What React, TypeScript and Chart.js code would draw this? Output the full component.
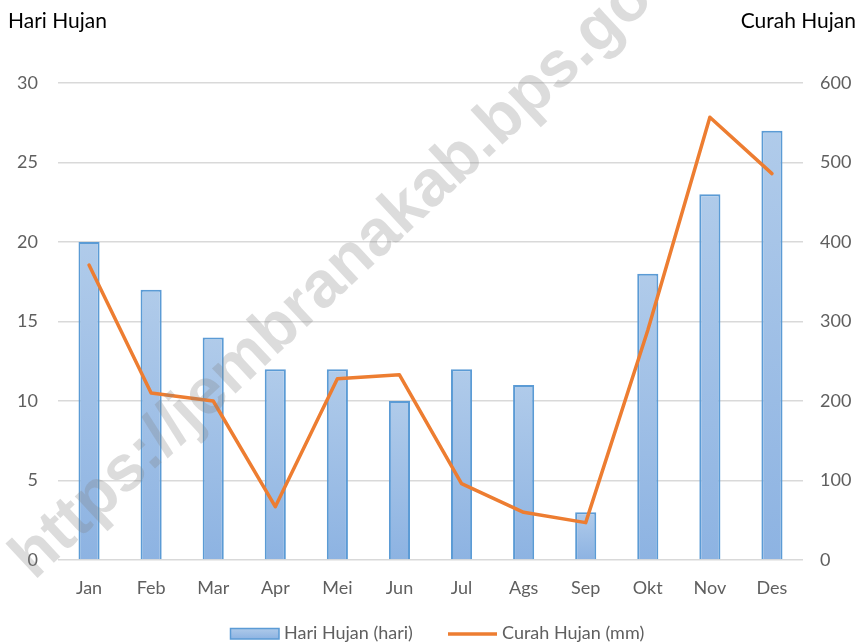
import React, { useEffect, useRef } from "react";
import { Chart, registerables } from "chart.js";

Chart.register(...registerables);

const months = ["Jan", "Feb", "Mar", "Apr", "Mei", "Jun", "Jul", "Ags", "Sep", "Okt", "Nov", "Des"];
const hariHujan = [20, 17, 14, 12, 12, 10, 12, 11, 3, 18, 23, 27];
const curahHujan = [371, 210, 200, 67, 228, 233, 96, 60, 47, 289, 557, 486];
const leftTicks = [0, 5, 10, 15, 20, 25, 30];
const rightTicks = [0, 100, 200, 300, 400, 500, 600];
const leftTitle = "Hari Hujan";
const rightTitle = "Curah Hujan";
const barLabel = "Hari Hujan (hari)";
const lineLabel = "Curah Hujan (mm)";
const watermark = "https://jembranakab.bps.go.id";

const FONT = "Lato, 'Open Sans', sans-serif";
const TICK_COLOR = "#5f5f5f";
const BAR_TOP = "#b0cbea";
const BAR_BOTTOM = "#8db3e2";
const BAR_BORDER = "#5b9bd5";
const LINE_COLOR = "#ed7d31";

const decor = {
  id: "decor",
  afterDraw(chart: any) {
    const ctx = chart.ctx as CanvasRenderingContext2D;
    ctx.save();
    // titles
    ctx.fillStyle = "#000000";
    ctx.font = `21px ${FONT}`;
    ctx.textBaseline = "alphabetic";
    ctx.textAlign = "left";
    ctx.fillText(leftTitle, 8, 28);
    ctx.textAlign = "right";
    ctx.fillText(rightTitle, 856, 28);

    // legend
    const g = ctx.createLinearGradient(0, 628, 0, 639);
    g.addColorStop(0, BAR_TOP);
    g.addColorStop(1, BAR_BOTTOM);
    ctx.fillStyle = g;
    ctx.fillRect(230, 628.5, 49, 10.5);
    ctx.strokeStyle = BAR_BORDER;
    ctx.lineWidth = 1.5;
    ctx.strokeRect(230.5, 628.5, 48.5, 10.5);
    ctx.font = `18px ${FONT}`;
    ctx.fillStyle = TICK_COLOR;
    ctx.textAlign = "left";
    ctx.textBaseline = "middle";
    ctx.fillText(barLabel, 284, 633);
    ctx.strokeStyle = LINE_COLOR;
    ctx.lineWidth = 3.5;
    ctx.beginPath();
    ctx.moveTo(448, 634);
    ctx.lineTo(497, 634);
    ctx.stroke();
    ctx.fillText(lineLabel, 502, 633);

    // watermark
    ctx.translate(22, 568);
    ctx.rotate((-43 * Math.PI) / 180);
    ctx.font = "bold 65px 'Liberation Sans', Arial, sans-serif";
    ctx.fillStyle = "rgba(128,128,128,0.28)";
    ctx.textAlign = "left";
    ctx.textBaseline = "middle";
    ctx.fillText(watermark, 0, 0);
    ctx.restore();
  },
};

export default function App() {
  const ref = useRef<HTMLCanvasElement | null>(null);
  useEffect(() => {
    if (!ref.current) return;
    const chart = new Chart(ref.current, {
      data: {
        labels: months,
        datasets: [
          {
            type: "line",
            label: lineLabel,
            data: curahHujan,
            yAxisID: "y1",
            borderColor: LINE_COLOR,
            backgroundColor: LINE_COLOR,
            borderWidth: 3.5,
            pointRadius: 0,
            tension: 0,
            borderJoinStyle: "round",
            borderCapStyle: "round",
            order: 0,
          },
          {
            type: "bar",
            label: barLabel,
            data: hariHujan,
            yAxisID: "y",
            backgroundColor: (c: any) => {
              const ch = c.chart;
              if (!ch.chartArea || c.raw === undefined) return BAR_BOTTOM;
              const ys = ch.scales.y;
              const top = ys.getPixelForValue(c.raw);
              const bot = ys.getPixelForValue(0);
              const gr = ch.ctx.createLinearGradient(0, top, 0, bot);
              gr.addColorStop(0, BAR_TOP);
              gr.addColorStop(1, BAR_BOTTOM);
              return gr;
            },
            borderColor: BAR_BORDER,
            borderWidth: 2,
            barPercentage: 0.34,
            categoryPercentage: 1,
            order: 1,
          },
        ],
      } as any,
      options: {
        responsive: false,
        animation: false,
        layout: { padding: { top: 83, bottom: 43, left: 0, right: 0 } },
        plugins: { legend: { display: false }, tooltip: { enabled: false } },
        scales: {
          x: {
            grid: { display: false, drawTicks: false },
            border: { display: false },
            ticks: { font: { family: FONT, size: 18 }, color: TICK_COLOR, padding: 17 },
            afterFit: (s: any) => { s.height = 40; },
          },
          y: {
            position: "left",
            min: 0,
            max: 30,
            afterBuildTicks: (s: any) => { s.ticks = leftTicks.map((v) => ({ value: v })); },
            ticks: { font: { family: FONT, size: 18 }, color: TICK_COLOR, padding: 20 },
            grid: { color: "#d9d9d9", lineWidth: 1.5, drawTicks: false },
            border: { display: false },
            afterFit: (s: any) => { s.width = 58; },
          },
          y1: {
            position: "right",
            min: 0,
            max: 600,
            afterBuildTicks: (s: any) => { s.ticks = rightTicks.map((v) => ({ value: v })); },
            ticks: { font: { family: FONT, size: 18 }, color: TICK_COLOR, padding: 17 },
            grid: { display: false, drawTicks: false },
            border: { display: false },
            afterFit: (s: any) => { s.width = 57; },
          },
        },
      } as any,
      plugins: [decor],
    });
    return () => chart.destroy();
  }, []);
  return (
    <div style={{ position: "absolute", left: 0, top: 0, width: 860, height: 643, background: "#fff" }}>
      <canvas ref={ref} width={860} height={643} style={{ display: "block" }} />
    </div>
  );
}
